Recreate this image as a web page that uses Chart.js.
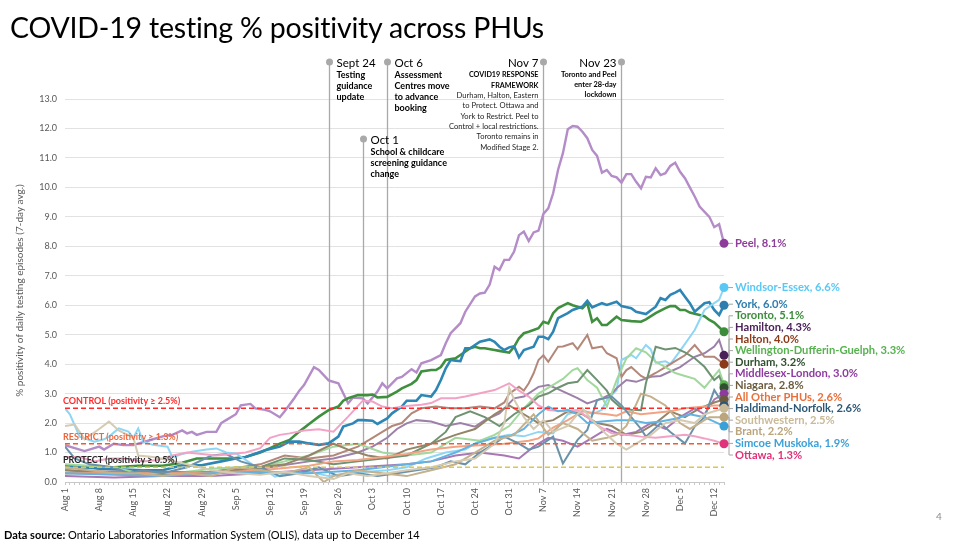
<!DOCTYPE html>
<html><head><meta charset="utf-8">
<script src="https://cdn.jsdelivr.net/npm/chart.js@4/dist/chart.umd.min.js"></script>
<style>
html,body{margin:0;padding:0;background:#fff;width:960px;height:542px;overflow:hidden;font-family:Lato,'Liberation Sans',sans-serif;}
#wrap{position:absolute;left:0;top:0;width:960px;height:542px;}
#title{position:absolute;left:10px;top:10px;font-size:28.5px;color:#000;white-space:nowrap;letter-spacing:-0.2px;}
#foot{position:absolute;left:4px;top:528px;font-size:11px;color:#000;white-space:nowrap;}
#page{position:absolute;left:936px;top:510px;font-size:10px;color:#8c8c8c;}
</style></head><body>
<div id="wrap"><canvas id="c" width="960" height="542"></canvas></div>
<div id="title">COVID-19 testing % positivity across PHUs</div>
<div id="foot"><b>Data source:</b> Ontario Laboratories Information System (OLIS), data up to December 14</div>
<div id="page">4</div>
<script>
// ---------- DATA ----------
const startDate = '2020-08-01';
const tickLabels = ['Aug 1','Aug 8','Aug 15','Aug 22','Aug 29','Sep 5','Sep 12','Sep 19','Sep 26','Oct 3','Oct 10','Oct 17','Oct 24','Oct 31','Nov 7','Nov 14','Nov 21','Nov 28','Dec 5','Dec 12'];
const lastDay = 135; // Dec 14

// [day since Aug 1, % positivity]
const peel = [[0,1.25],[2,1.15],[4,1.05],[7,1.2],[8,1.1],[10,1.3],[12,1.25],[14,1.25],[15,1.3],[17,1.4],[20,1.55],[22,1.6],[24,1.75],[25,1.65],[26,1.7],[27,1.6],[29,1.7],[31,1.7],[32,2.0],[33,2.1],[35,2.3],[36,2.6],[38,2.65],[39,2.5],[41,2.45],[42,2.4],[44,2.2],[45,2.4],[47,2.85],[48,3.1],[49,3.3],[51,3.9],[52,3.8],[54,3.45],[56,3.35],[58,2.67],[59,2.87],[61,2.84],[62,2.67],[64,3.07],[65,3.35],[66,3.18],[68,3.52],[69,3.57],[71,3.83],[72,3.72],[73,4.03],[75,4.14],[77,4.31],[78,4.71],[79,5.05],[81,5.39],[82,5.78],[84,6.3],[85,6.4],[86,6.43],[87,6.7],[88,7.31],[89,7.2],[90,7.54],[91,7.54],[92,7.82],[93,8.38],[94,8.5],[95,8.18],[96,8.47],[97,8.53],[98,9.1],[99,9.29],[100,9.8],[101,10.59],[102,11.16],[103,11.97],[104,12.08],[105,12.06],[106,11.89],[107,11.67],[108,11.27],[109,11.07],[110,10.5],[111,10.59],[112,10.39],[113,10.34],[114,10.16],[115,10.45],[116,10.45],[117,10.19],[118,9.97],[119,10.36],[120,10.34],[121,10.65],[122,10.42],[123,10.48],[124,10.73],[125,10.84],[126,10.53],[127,10.31],[128,10.0],[129,9.69],[130,9.35],[132,9.0],[133,8.65],[134,8.75],[135,8.1]];
const toronto = [[0,0.5],[5,0.5],[10,0.5],[15,0.55],[20,0.55],[24,0.65],[27,0.8],[30,0.8],[34,0.8],[37,0.85],[40,1.0],[42,1.15],[44,1.3],[46,1.43],[48,1.71],[50,1.97],[52,2.22],[54,2.44],[56,2.56],[57,2.76],[58,2.84],[60,2.95],[62,2.95],[63,2.97],[64,2.87],[66,2.89],[68,3.07],[69,3.18],[71,3.33],[72,3.46],[73,3.75],[75,3.8],[76,3.8],[77,3.9],[78,4.14],[80,4.2],[81,4.31],[83,4.54],[84,4.59],[85,4.54],[86,4.54],[88,4.48],[89,4.45],[91,4.39],[92,4.59],[93,4.88],[94,5.05],[95,5.1],[97,5.22],[98,5.44],[99,5.38],[100,5.73],[101,5.9],[103,6.07],[104,6.0],[106,5.9],[107,6.07],[108,5.44],[109,5.56],[110,5.33],[111,5.33],[113,5.61],[114,5.5],[116,5.46],[118,5.44],[119,5.52],[121,5.73],[123,5.9],[124,5.97],[125,5.97],[126,5.84],[127,5.84],[128,5.75],[130,5.67],[131,5.63],[132,5.5],[133,5.41],[135,5.1]];
const york = [[0,0.57],[4,0.5],[7,0.45],[12,0.42],[16,0.4],[20,0.4],[24,0.57],[28,0.57],[32,0.7],[35,0.8],[37,0.85],[41,1.08],[44,1.2],[46,1.37],[48,1.37],[50,1.31],[52,1.26],[54,1.31],[56,1.54],[57,1.88],[59,1.99],[60,2.1],[61,2.1],[63,2.08],[64,1.97],[66,2.16],[67,2.33],[69,2.56],[70,2.76],[72,2.76],[73,2.95],[75,2.9],[76,3.12],[77,3.46],[78,3.86],[79,4.14],[80,4.12],[81,4.1],[82,4.54],[83,4.54],[85,4.76],[87,4.84],[88,4.76],[89,4.59],[90,4.48],[91,4.57],[92,4.61],[93,4.23],[94,4.48],[96,4.59],[97,4.93],[98,4.93],[99,4.85],[100,5.1],[101,5.56],[103,5.73],[104,5.84],[105,5.9],[106,5.95],[107,6.15],[108,5.93],[110,6.07],[111,6.01],[113,6.12],[114,5.97],[116,5.9],[117,5.78],[119,5.7],[121,5.95],[122,6.24],[123,6.18],[124,6.35],[125,6.43],[126,6.52],[127,6.29],[128,6.07],[129,5.78],[131,6.07],[132,6.1],[133,5.84],[134,5.67],[135,6.0]];
const windsorEssex = [[0,2.5],[1,2.3],[3,1.54],[6,1.37],[8,1.45],[9,1.54],[11,1.82],[13,1.71],[14,1.5],[15,1.82],[16,1.37],[18,1.26],[21,1.2],[22,0.84],[24,0.95],[26,1.03],[29,1.1],[31,1.14],[33,1.0],[35,0.97],[37,0.75],[39,0.52],[41,0.41],[43,0.18],[46,0.3],[50,0.35],[54,0.2],[58,0.3],[62,0.35],[66,0.4],[70,0.5],[74,0.8],[78,1.0],[82,1.1],[85,1.4],[88,1.5],[91,1.6],[94,1.55],[97,1.7],[100,1.65],[103,2.3],[106,2.45],[108,2.3],[110,2.45],[111,2.78],[113,3.12],[114,4.14],[116,4.31],[117,4.2],[119,4.65],[120,4.5],[121,4.05],[123,4.1],[124,4.0],[126,4.45],[129,5.16],[131,5.84],[133,6.07],[134,6.18],[135,6.6]];
const hamilton = [[0,0.3],[10,0.35],[20,0.35],[30,0.3],[40,0.45],[50,0.7],[55,0.8],[60,1.0],[63,1.2],[66,1.5],[68,1.8],[70,1.99],[72,2.1],[75,2.05],[78,1.9],[81,2.0],[84,1.88],[86,2.1],[89,2.33],[92,2.84],[94,2.9],[97,3.23],[99,3.29],[101,3.15],[103,3.0],[105,2.85],[107,2.67],[110,2.84],[112,3.0],[113,3.18],[115,3.46],[117,3.4],[120,3.57],[122,3.6],[124,3.75],[126,3.9],[129,4.25],[131,4.37],[133,4.6],[134,4.82],[135,4.3]];
const halton = [[0,0.4],[10,0.35],[20,0.3],[30,0.35],[40,0.6],[45,0.9],[50,0.8],[55,0.9],[60,1.2],[63,1.5],[65,1.7],[67,1.9],[69,2.0],[71,2.33],[73,2.5],[76,2.56],[79,2.5],[82,2.5],[85,2.56],[88,2.5],[90,2.7],[91,3.0],[93,3.23],[94,3.1],[95,3.35],[96,3.69],[97,4.14],[98,4.3],[99,4.08],[101,4.59],[102,4.6],[104,4.71],[105,4.5],[107,4.99],[108,4.54],[110,4.6],[111,4.37],[113,4.2],[114,3.57],[115,3.8],[116,3.9],[118,3.6],[119,3.52],[121,3.7],[123,3.9],[125,4.1],[127,4.3],[129,4.65],[130,4.45],[131,4.25],[133,4.25],[135,4.0]];
const wdg = [[0,0.6],[10,0.5],[15,0.3],[20,0.25],[25,0.35],[30,0.45],[35,0.5],[40,0.5],[45,0.7],[50,0.9],[55,1.2],[60,1.3],[65,1.0],[70,0.9],[75,1.0],[80,1.5],[85,1.4],[88,1.6],[91,1.9],[94,2.5],[97,3.0],[100,3.3],[102,3.5],[104,3.8],[105,3.86],[107,3.46],[109,3.2],[111,2.56],[113,3.46],[115,4.2],[117,4.54],[119,4.4],[121,4.08],[123,3.9],[125,3.7],[127,3.6],[129,3.5],[131,3.2],[133,3.6],[134,3.8],[135,3.3]];
const durham = [[0,0.3],[10,0.3],[20,0.25],[30,0.3],[40,0.5],[45,0.8],[50,0.75],[55,0.6],[60,0.7],[65,0.8],[70,0.9],[75,1.3],[78,1.7],[80,2.2],[83,2.4],[86,2.2],[89,1.9],[92,2.3],[95,2.6],[97,2.9],[99,3.01],[101,3.2],[103,3.35],[105,3.4],[107,3.8],[109,3.46],[111,3.1],[112,2.8],[114,2.5],[116,2.45],[118,2.44],[119,3.35],[121,4.59],[123,4.5],[125,4.55],[127,4.4],[129,4.2],[131,3.91],[133,3.46],[134,3.6],[135,3.2]];
const middlesexLondon = [[0,0.2],[10,0.15],[20,0.2],[30,0.2],[40,0.3],[50,0.4],[60,0.5],[70,0.6],[75,0.7],[80,0.9],[85,1.0],[90,0.9],[93,0.8],[96,1.2],[99,1.5],[102,1.4],[105,1.2],[108,1.5],[111,1.8],[114,1.6],[117,1.7],[120,2.0],[123,1.8],[126,2.2],[129,2.5],[131,2.3],[133,2.8],[135,3.0]];
const niagara = [[0,0.4],[10,0.3],[20,0.35],[30,0.3],[40,0.5],[45,0.6],[50,0.9],[55,1.3],[58,1.1],[62,0.9],[66,0.8],[70,1.1],[75,1.3],[80,1.6],[84,1.8],[88,2.3],[91,2.6],[94,2.3],[97,2.0],[100,2.1],[103,2.4],[106,2.3],[109,2.0],[112,1.9],[115,1.6],[118,1.7],[121,2.0],[124,2.4],[127,2.2],[130,2.5],[133,2.7],[135,2.8]];
const allOtherPHUs = [[0,0.3],[10,0.3],[20,0.3],[30,0.3],[40,0.4],[50,0.55],[55,0.7],[60,0.75],[65,0.85],[70,0.95],[75,1.1],[80,1.2],[85,1.25],[90,1.3],[95,1.4],[97,1.48],[100,1.85],[103,2.1],[106,2.4],[108,2.35],[111,2.3],[113,2.25],[115,2.4],[118,2.3],[121,2.35],[124,2.4],[127,2.5],[130,2.55],[133,2.6],[135,2.6]];
const haldimandNorfolk = [[0,1.2],[2,0.8],[5,0.6],[10,0.5],[13,0.3],[16,0.4],[20,0.3],[25,0.5],[30,0.9],[33,0.95],[36,0.7],[40,0.5],[44,0.2],[48,0.3],[52,0.5],[56,0.2],[60,0.3],[64,0.2],[68,0.3],[72,0.4],[76,0.5],[79,0.7],[82,0.6],[85,1.0],[88,1.3],[90,1.54],[93,1.3],[95,1.1],[97,1.2],[100,1.54],[102,0.63],[105,1.43],[107,1.77],[109,2.78],[112,2.9],[114,2.6],[116,2.2],[118,1.8],[119,1.54],[122,1.99],[124,1.7],[127,1.31],[129,1.88],[131,2.2],[133,3.12],[135,2.6]];
const southwestern = [[0,1.9],[2,1.95],[4,1.45],[7,1.8],[9,2.05],[11,1.75],[14,1.5],[15,0.9],[18,0.85],[21,0.75],[25,0.6],[30,0.4],[35,0.3],[40,0.25],[45,0.35],[50,0.2],[55,0.1],[58,0.3],[62,0.2],[66,0.3],[70,0.4],[75,0.5],[80,0.7],[84,0.8],[88,1.3],[90,2.0],[91,3.2],[92,2.8],[94,2.2],[96,1.8],[98,2.1],[100,1.7],[103,1.9],[106,2.5],[108,2.1],[111,1.6],[113,1.3],[115,1.1],[117,1.3],[120,1.6],[123,2.0],[126,2.1],[129,2.0],[131,2.3],[133,2.4],[135,2.5]];
const brant = [[0,0.5],[5,0.4],[10,0.3],[15,0.3],[20,0.2],[25,0.3],[30,0.2],[35,0.5],[40,0.4],[45,0.3],[50,0.5],[53,0.0],[55,0.2],[60,0.4],[65,0.3],[70,0.2],[75,0.4],[80,0.6],[84,1.0],[88,1.4],[92,1.6],[96,2.3],[99,1.6],[102,2.0],[105,1.8],[108,1.4],[111,1.5],[113,1.6],[115,1.9],[118,3.0],[120,2.9],[123,2.6],[126,2.0],[128,1.8],[130,2.0],[132,2.2],[135,2.2]];
const simcoeMuskoka = [[0,0.3],[10,0.25],[20,0.2],[30,0.3],[40,0.35],[50,0.3],[60,0.4],[65,0.5],[70,0.6],[75,0.7],[80,1.0],[84,1.3],[88,1.5],[91,1.55],[94,1.8],[97,2.3],[99,2.56],[101,2.4],[103,2.45],[105,2.3],[107,2.0],[110,2.05],[113,2.1],[116,2.1],[119,2.0],[122,2.05],[125,2.15],[128,2.3],[131,2.2],[133,2.05],[135,1.9]];
const ottawa = [[0,0.85],[3,0.85],[6,0.7],[9,0.8],[12,0.8],[16,0.7],[19,0.75],[22,0.9],[25,1.0],[28,0.95],[31,0.9],[34,0.95],[37,1.0],[40,1.15],[42,1.5],[44,1.6],[46,1.65],[49,1.75],[52,1.79],[55,1.71],[58,2.22],[61,2.76],[63,2.73],[65,2.56],[67,2.5],[70,2.58],[73,2.62],[75,2.68],[77,2.84],[80,2.84],[82,2.9],[85,3.01],[88,3.12],[91,3.35],[93,3.1],[95,2.9],[97,2.6],[99,2.44],[102,2.4],[105,2.44],[107,2.2],[109,1.93],[112,1.65],[115,1.6],[118,1.54],[121,1.5],[124,1.55],[127,1.6],[129,1.55],[131,1.48],[133,1.4],[135,1.3]];

const seriesNames = ['Southwestern','Brant','Simcoe Muskoka','Ottawa','Haldimand-Norfolk','All Other PHUs','Niagara','Middlesex-London','Durham','Wellington-Dufferin-Guelph','Halton','Hamilton','Windsor-Essex','York','Toronto','Peel'];
const seriesData = [southwestern,brant,simcoeMuskoka,ottawa,haldimandNorfolk,allOtherPHUs,niagara,middlesexLondon,durham,wdg,halton,hamilton,windsorEssex,york,toronto,peel];

const thresholdValues = [2.5, 1.3, 0.5];
const thresholdLabels = ['CONTROL (positivity \u2265 2.5%)','RESTRICT (positivity \u2265 1.3%)','PROTECT (positivity \u2265 0.5%)'];

const eventDates = ['2020-09-24','2020-10-01','2020-10-06','2020-11-07','2020-11-23'];
const eventTitles = ['Sept 24','Oct 1','Oct 6','Nov 7','Nov 23'];
const eventBold = [['Testing','guidance','update'],['School & childcare','screening guidance','change'],['Assessment','Centres move','to advance','booking'],['COVID19 RESPONSE','FRAMEWORK'],['Toronto and Peel','enter 28-day','lockdown']];
const eventNotes = [[],[],[],['Durham, Halton, Eastern','to Protect. Ottawa and','York to Restrict. Peel to','Control + local restrictions.','Toronto remains in','Modified Stage 2.'],[]];

// ---------- STYLE ----------
const FONT = "Lato, 'Liberation Sans', sans-serif";
const lineColors = ['#D5CAB2','#C4B08C','#62B3E0','#F2A3C5','#6A92AA','#F2A383','#948468','#A877B6','#6F9272','#A2D89D','#B3877A','#9C80A8','#8FD6F4','#2E86B4','#3F8F3F','#B48CC8'];
const labelColors = ['#C9BA98','#BBA57D','#3AA0D8','#E0327A','#2B5876','#E8703A','#6B5B3E','#8E3BA0','#2F4F2F','#56B24E','#8B3A1A','#4A2058','#5AC8F5','#2E7DAE','#3C8C3C','#8E3E9A'];
const lineWidths = [2,2,2,2,2,2,2,2,2,2,2,2,2,2.6,2.6,2.4];
const thresholdLine = ['#FF2A2A','#F05A33','#DCC845'];
const thresholdText = ['#FF2A2A','#F0643A','#262626'];
const eventLayout = [
  {top:62, side:'right', size:9, gap:11},
  {top:139, side:'right', size:9, gap:11},
  {top:62, side:'right', size:9, gap:11},
  {top:62, side:'left', size:7.2, gap:10.3, note:7.6},
  {top:62, side:'left', size:7.4, gap:10}
];

const dayOf = s => Math.round((Date.parse(s) - Date.parse(startDate)) / 86400000);
const eventDays = eventDates.map(dayOf);

Chart.defaults.font.family = FONT;

const datasets = seriesData.map((s, i) => ({
  label: seriesNames[i],
  data: s.map(([d, v]) => ({x: d, y: v})),
  borderColor: lineColors[i],
  borderWidth: lineWidths[i],
  pointRadius: 0,
  tension: 0,
  fill: false
}));

function layoutLabels(targets, gap, maxY) {
  let clusters = targets.map(t => ({items: [t], top: t.y}));
  const fix = c => {
    const mean = c.items.reduce((s, t) => s + t.y, 0) / c.items.length;
    c.top = mean - (c.items.length - 1) * gap / 2;
  };
  let changed = true;
  while (changed) {
    changed = false;
    const last = clusters[clusters.length - 1];
    const lb = last.top + (last.items.length - 1) * gap;
    if (lb > maxY) last.top = maxY - (last.items.length - 1) * gap;
    for (let i = 0; i < clusters.length - 1; i++) {
      const a = clusters[i], b = clusters[i + 1];
      if (a.top + a.items.length * gap > b.top + 0.01) {
        const m = {items: a.items.concat(b.items), top: 0};
        fix(m);
        clusters.splice(i, 2, m);
        changed = true;
        break;
      }
    }
  }
  const out = [];
  clusters.forEach(c => c.items.forEach((t, k) => out.push({...t, ly: c.top + k * gap})));
  return out;
}

const overlay = {
  id: 'overlay',
  beforeDatasetsDraw(chart) {
    const {ctx, chartArea: a, scales: {x}} = chart;
    ctx.save();
    eventDays.forEach((d, i) => {
      const px = Math.round(x.getPixelForValue(d)) + 0.5;
      const L = eventLayout[i];
      ctx.strokeStyle = '#A9A9A9';
      ctx.lineWidth = 1.3;
      ctx.beginPath(); ctx.moveTo(px, L.top); ctx.lineTo(px, a.bottom); ctx.stroke();
    });
    ctx.restore();
  },
  afterDatasetsDraw(chart) {
    const {ctx, chartArea: a, scales: {x, y}} = chart;
    ctx.save();
    thresholdValues.forEach((v, i) => {
      const py = y.getPixelForValue(v);
      ctx.strokeStyle = thresholdLine[i];
      ctx.lineWidth = 1.5;
      ctx.setLineDash([5, 3]);
      ctx.beginPath(); ctx.moveTo(a.left, py); ctx.lineTo(a.right, py); ctx.stroke();
      ctx.setLineDash([]);
      ctx.font = 'bold 9px ' + FONT;
      ctx.fillStyle = thresholdText[i];
      ctx.textAlign = 'left'; ctx.textBaseline = 'middle';
      ctx.fillText(thresholdLabels[i], a.left - 2, py - 7);
    });
    eventDays.forEach((d, i) => {
      const px = Math.round(x.getPixelForValue(d)) + 0.5;
      const L = eventLayout[i];
      ctx.fillStyle = '#A9A9A9';
      ctx.beginPath(); ctx.arc(px, L.top, 3.5, 0, Math.PI * 2); ctx.fill();
      const tx = L.side === 'right' ? px + 7 : px - 5;
      ctx.textAlign = L.side === 'right' ? 'left' : 'right';
      ctx.textBaseline = 'middle';
      ctx.fillStyle = '#000';
      ctx.font = '11.5px ' + FONT;
      ctx.fillText(eventTitles[i], tx, L.top + 1);
      let ly = L.top + 13;
      ctx.font = 'bold ' + L.size + 'px ' + FONT;
      eventBold[i].forEach(t => { ctx.fillText(t, tx, ly); ly += L.gap; });
      ctx.font = (L.note || L.size) + 'px ' + FONT;
      ctx.fillStyle = '#262626';
      eventNotes[i].forEach(t => { ctx.fillText(t, tx, ly); ly += L.gap; });
    });
    const targets = [];
    chart.data.datasets.forEach((ds, i) => {
      const meta = chart.getDatasetMeta(i);
      const p = meta.data[meta.data.length - 1];
      const v = ds.data[ds.data.length - 1].y;
      targets.push({i, x: p.x, y: p.y, v, name: ds.label});
    });
    targets.sort((p, q) => (p.y - q.y) || (q.i - p.i));
    const placed = layoutLabels(targets, 11.6, a.bottom - 27);
    placed.forEach(t => {
      ctx.strokeStyle = '#A6A6A6';
      ctx.lineWidth = 1;
      ctx.beginPath();
      ctx.moveTo(t.x, t.y); ctx.lineTo(t.x + 5, t.y); ctx.lineTo(t.x + 5, t.ly); ctx.lineTo(t.x + 9, t.ly);
      ctx.stroke();
    });
    placed.forEach(t => {
      ctx.fillStyle = labelColors[t.i];
      ctx.beginPath(); ctx.arc(t.x, t.y, 4.5, 0, Math.PI * 2); ctx.fill();
      ctx.font = 'bold 11.2px ' + FONT;
      ctx.textAlign = 'left'; ctx.textBaseline = 'middle';
      ctx.fillText(t.name + ', ' + t.v.toFixed(1) + '%', t.x + 11, t.ly);
    });
    ctx.restore();
  }
};

new Chart(document.getElementById('c'), {
  type: 'line',
  data: {datasets},
  options: {
    responsive: false,
    animation: false,
    events: [],
    layout: {padding: {left: 0, right: 236, top: 99, bottom: 0}},
    plugins: {legend: {display: false}, tooltip: {enabled: false}},
    scales: {
      x: {
        type: 'linear', min: 0, max: lastDay,
        afterFit(s) { s.height = 60; },
        afterBuildTicks(s) { const t = []; for (let d = 0; d <= lastDay; d++) t.push({value: d}); s.ticks = t; },
        grid: {display: true, drawOnChartArea: false, drawTicks: true, tickLength: 3, color: '#C8C8C8'},
        border: {display: true, color: '#C8C8C8'},
        ticks: {autoSkip: false, minRotation: 90, maxRotation: 90, padding: 3, color: '#595959', font: {size: 9},
          callback: v => (v % 7 === 0 ? tickLabels[v / 7] : '')}
      },
      y: {
        min: 0, max: 13,
        afterFit(s) { s.width = 65; },
        ticks: {stepSize: 1, padding: 8, color: '#595959', font: {size: 9}, callback: v => v.toFixed(1)},
        grid: {color: '#E2E2E2', drawTicks: false},
        border: {display: false},
        title: {display: true, text: '% positivity of daily testing episodes (7-day avg.)', color: '#595959', font: {size: 10}, padding: {top: 14, bottom: 0}}
      }
    }
  },
  plugins: [overlay]
});
</script>
</body></html>
